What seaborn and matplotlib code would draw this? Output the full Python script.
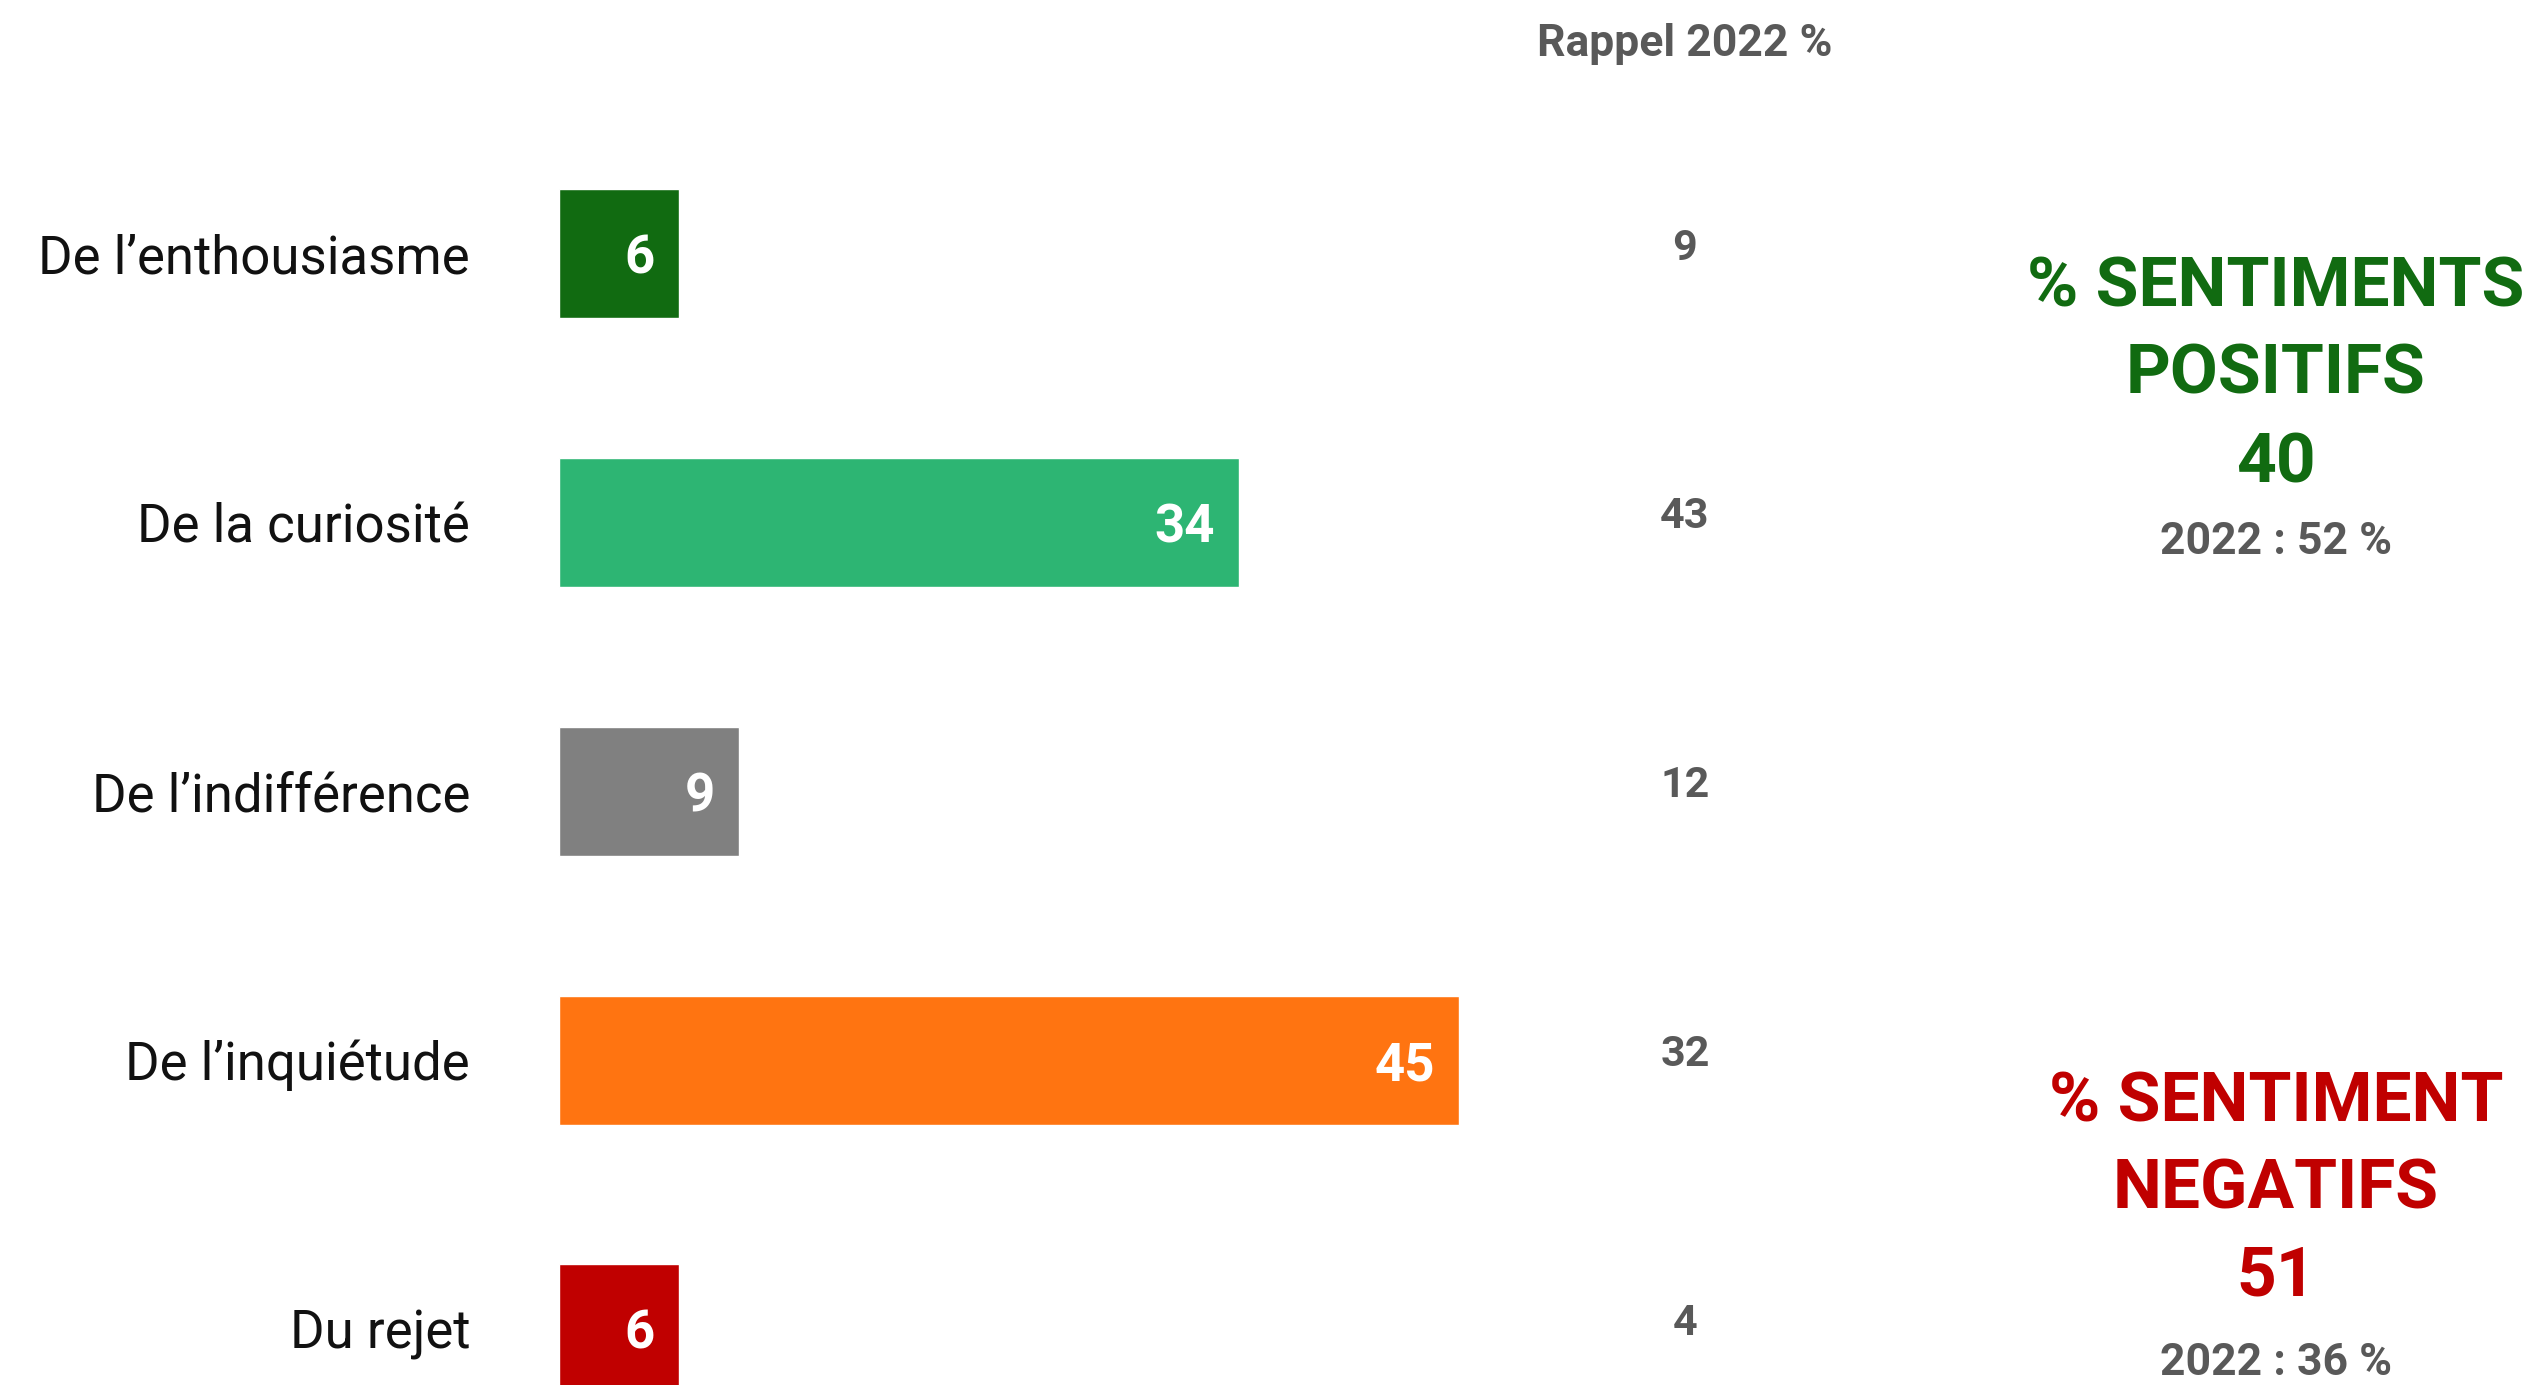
import matplotlib
matplotlib.use('Agg')
import matplotlib.pyplot as plt
import matplotlib.transforms as mtransforms
import seaborn as sns
import pandas as pd

# Data
categories = ['De l\u2019enthousiasme', 'De la curiosit\u00e9', 'De l\u2019indiff\u00e9rence',
              'De l\u2019inqui\u00e9tude', 'Du rejet']
values_2024 = [6, 34, 9, 45, 6]
rappel_2022 = [9, 43, 12, 32, 4]
bar_colors = ['#116B11', '#2DB573', '#808080', '#FF7411', '#C00000']

positive_total = 40
positive_2022 = 52
negative_total = 51
negative_2022 = 36

sns.set_theme(style='white')
plt.rcParams['font.family'] = ['Roboto', 'DejaVu Sans']

df = pd.DataFrame({'categorie': categories, 'valeur': values_2024})

fig = plt.figure(figsize=(25.35, 13.85), dpi=100)
# axes: x=0 at 559px, 20px per unit; full height
ax = fig.add_axes([559 / 2535, 0.0, 1000 / 2535, 1.0])

sns.barplot(data=df, x='valeur', y='categorie', hue='categorie', palette=bar_colors,
            legend=False, saturation=1, width=0.48, ax=ax)

ax.set_xlim(0, 50)
ax.set_ylim(4 + 56 / 268.9, -253.5 / 268.9)
ax.set_xlabel('')
ax.set_ylabel('')
ax.set_xticks([])
sns.despine(ax=ax, left=True, bottom=True)
ax.tick_params(axis='y', length=0, pad=64)
for lab in ax.get_yticklabels():
    lab.set_fontsize(38)
    lab.set_color('#111111')
    lab.set_fontweight('normal')
    lab.set_verticalalignment('center_baseline')

# values inside the bars
for i, v in enumerate(values_2024):
    ax.text(v - 1.2, i + 0.02, str(v), ha='right', va='center', color='white',
            fontsize=38, fontweight='bold')

# Rappel 2022 column
blend = mtransforms.blended_transform_factory(fig.transFigure, ax.transData)
rx = 1685 / 2535
fig.text(rx, 1 - 44 / 1385, 'Rappel 2022 %', ha='center', va='center',
         fontsize=32, fontweight='bold', color='#595959')
for i, v in enumerate(rappel_2022):
    ax.text(rx, i - 0.02, str(v), transform=blend, ha='center', va='center',
            fontsize=31, fontweight='bold', color='#595959')

# right-hand summaries
px = 2276 / 2535
green = '#116B11'
red = '#C00000'
fig.text(px, 1 - 288 / 1385, '% SENTIMENTS', ha='center', va='center',
         fontsize=50, fontweight='bold', color=green)
fig.text(px, 1 - 375 / 1385, 'POSITIFS', ha='center', va='center',
         fontsize=50, fontweight='bold', color=green)
fig.text(px, 1 - 464 / 1385, str(positive_total), ha='center', va='center',
         fontsize=50, fontweight='bold', color=green)
fig.text(px, 1 - 542 / 1385, f'2022 : {positive_2022} %', ha='center', va='center',
         fontsize=32, fontweight='bold', color='#595959')

fig.text(px, 1 - 1103 / 1385, '% SENTIMENT', ha='center', va='center',
         fontsize=50, fontweight='bold', color=red)
fig.text(px, 1 - 1190 / 1385, 'NEGATIFS', ha='center', va='center',
         fontsize=50, fontweight='bold', color=red)
fig.text(px, 1 - 1277 / 1385, str(negative_total), ha='center', va='center',
         fontsize=50, fontweight='bold', color=red)
fig.text(px, 1 - 1363 / 1385, f'2022 : {negative_2022} %', ha='center', va='center',
         fontsize=32, fontweight='bold', color='#595959')

fig.savefig('out.png', dpi=100, facecolor='white')
